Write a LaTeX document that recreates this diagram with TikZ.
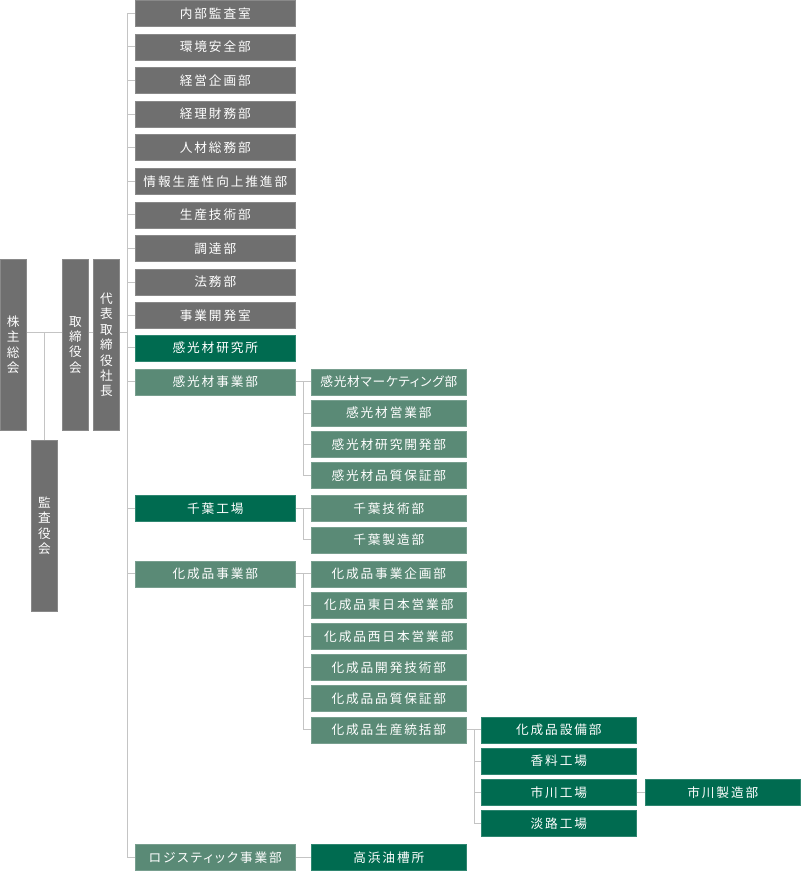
\documentclass[tikz,border=0pt]{standalone}
\usepackage{fontspec}
\newfontfamily\jpfont[RawFeature=+palt, LetterSpace=15]{Noto Sans CJK JP}
\definecolor{cgray}{HTML}{6F6F6F}
\definecolor{cdark}{HTML}{006B50}
\definecolor{clight}{HTML}{5A8A76}
\definecolor{cline}{HTML}{C4C4C4}

\begin{document}
\begin{tikzpicture}[
    x=0.75pt, y=-0.75pt,
    every node/.style={font=\jpfont\fontsize{9.5}{11.6}\selectfont, text=white},
    box/.style={rectangle, anchor=north west, inner sep=0pt, line width=0.5pt,
                minimum height=19.5pt},
    gbox/.style={box, fill=cgray, draw=cgray!82!white, minimum width=120pt},
    dbox/.style={box, fill=cdark, draw=cdark!82!white, minimum width=116.25pt},
    lbox/.style={box, fill=clight, draw=clight!82!white, minimum width=116.25pt},
    vbox/.style={box, fill=cgray, draw=cgray!82!white, align=center,
                 minimum width=19.5pt, minimum height=128.25pt},
    ln/.style={draw=cline, line width=0.75pt},
]
\useasboundingbox (0,0) rectangle (800,871);

\coordinate (mainline) at (0,332);
\coordinate (trunk) at (127,0);
\coordinate (sub) at (303,0);
\coordinate (sub3) at (474,0);

% ================================================== top of the company
\node[vbox] (kabunushi) at (0,259) {株\\主\\総\\会};
\node[vbox] (torishimari) at (62,259) {取\\締\\役\\会};
\node[vbox] (shacho) at (93,259) {代\\表\\取\\締\\役\\社\\長};
\node[vbox] (kansa) at (31,440) {監\\査\\役\\会};

\draw[ln] (kabunushi.east |- mainline) -- (torishimari.west |- mainline);
\draw[ln] (torishimari.east |- mainline) -- (shacho.west |- mainline);
\draw[ln] (shacho.east |- mainline) -- (trunk |- mainline);
\draw[ln] (kansa.north) -- (kansa.north |- mainline);

% ================================================== staff departments
\foreach \i/\t in {0/内部監査室, 1/環境安全部, 2/経営企画部, 3/経理財務部,
                   4/人材総務部, 5/情報生産性向上推進部, 6/生産技術部,
                   7/調達部, 8/法務部, 9/事業開発室}{
  \node[gbox] (hq\i) at (135, {\i*33.6}) {\t};
  \draw[ln] (hq\i.west) -- (hq\i.west -| trunk);}

\node[dbox, minimum width=120pt] (kenkyu) at (135,334.5) {感光材研究所};
\draw[ln] (kenkyu.west) -- (kenkyu.west -| trunk);

% ================================================== 感光材
\node[lbox, minimum width=120pt] (kanko) at (135,368.5) {感光材事業部};
\draw[ln] (kanko.west) -- (kanko.west -| trunk);
\foreach \j/\y/\t in {1/368.5/{\addfontfeature{LetterSpace=6}感光材マーケティング部},
                      2/399.8/感光材営業部, 3/431.1/感光材研究開発部,
                      4/462.4/感光材品質保証部}{
  \node[lbox] (kk\j) at (311,\y) {\t};
  \draw[ln] (kk\j.west) -- (kk\j.west -| sub);}
\draw[ln] (kanko.east) -- (kanko.east -| sub);
\draw[ln] (sub |- kk1.west) -- (sub |- kk4.west);

% ================================================== 千葉
\node[dbox, minimum width=120pt] (chiba) at (135,495) {千葉工場};
\draw[ln] (chiba.west) -- (chiba.west -| trunk);
\node[lbox] (ch1) at (311,495) {千葉技術部};
\node[lbox] (ch2) at (311,526.5) {千葉製造部};
\draw[ln] (chiba.east) -- (ch1.west);
\draw[ln] (sub |- ch1.west) |- (ch2.west);

% ================================================== 化成品
\node[lbox, minimum width=120pt] (kasei) at (135,560.5) {化成品事業部};
\draw[ln] (kasei.west) -- (kasei.west -| trunk);
\foreach \j/\y/\t in {1/560.5/化成品事業企画部, 2/591.7/化成品東日本営業部,
                      3/622.9/化成品西日本営業部, 4/654.1/化成品開発技術部,
                      5/685.3/化成品品質保証部, 6/716.5/化成品生産統括部}{
  \node[lbox] (ks\j) at (311,\y) {\t};
  \draw[ln] (ks\j.west) -- (ks\j.west -| sub);}
\draw[ln] (kasei.east) -- (kasei.east -| sub);
\draw[ln] (sub |- ks1.west) -- (sub |- ks6.west);

\foreach \j/\y/\t in {1/716.5/化成品設備部, 2/747.7/香料工場,
                      3/778.9/市川工場, 4/810.1/淡路工場}{
  \node[dbox] (pl\j) at (481,\y) {\t};
  \draw[ln] (pl\j.west) -- (pl\j.west -| sub3);}
\draw[ln] (ks6.east) -- (ks6.east -| sub3);
\draw[ln] (sub3 |- pl1.west) -- (sub3 |- pl4.west);

\node[dbox] (ichikawa) at (645,778.9) {市川製造部};
\draw[ln] (pl3.east) -- (ichikawa.west);

% ================================================== ロジスティック
\node[lbox, minimum width=120pt] (logi) at (135,844) {ロジスティック事業部};
\node[dbox] (takahama) at (311,844) {高浜油槽所};
\draw[ln] (logi.west) -- (logi.west -| trunk);
\draw[ln] (logi.east) -- (takahama.west);

\draw[ln] (trunk |- hq0.west) -- (trunk |- logi.west);

\end{tikzpicture}
\end{document}
